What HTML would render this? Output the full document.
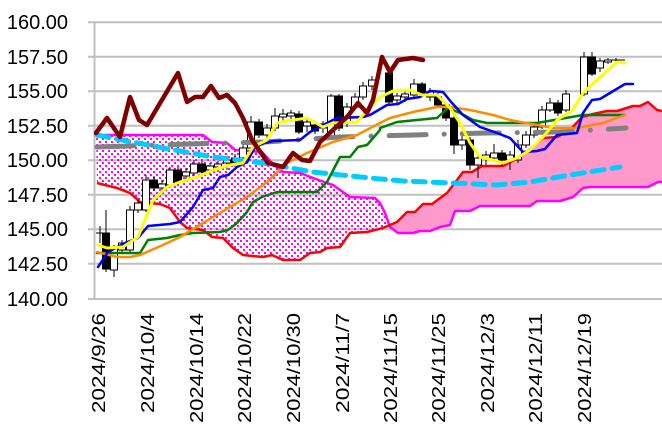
<!DOCTYPE html>
<html><head><meta charset="utf-8"><style>
html,body{margin:0;padding:0;background:#fff;}
svg{display:block;}
</style></head><body>
<svg width="662" height="434" viewBox="0 0 662 434" xmlns="http://www.w3.org/2000/svg">
<defs>
<pattern id="dots" width="6" height="6" patternUnits="userSpaceOnUse">
<rect x="0" y="0" width="2" height="2" fill="#ff00ff"/>
<rect x="3" y="3" width="2" height="2" fill="#ff00ff"/>
</pattern>
</defs>
<g stroke="#c0c0c0" stroke-width="2">
<line x1="88" y1="22.3" x2="662" y2="22.3"/>
<line x1="88" y1="56.8" x2="662" y2="56.8"/>
<line x1="88" y1="91.3" x2="662" y2="91.3"/>
<line x1="88" y1="125.8" x2="662" y2="125.8"/>
<line x1="88" y1="160.3" x2="662" y2="160.3"/>
<line x1="88" y1="194.8" x2="662" y2="194.8"/>
<line x1="88" y1="229.3" x2="662" y2="229.3"/>
<line x1="88" y1="263.8" x2="662" y2="263.8"/>
<line x1="88" y1="299" x2="662" y2="299"/>
<line x1="94.5" y1="22" x2="94.5" y2="299"/>
</g>
<g font-family="Liberation Sans, sans-serif" font-size="20" fill="#000" text-anchor="end">
<text x="68" y="29">160.00</text>
<text x="68" y="64">157.50</text>
<text x="68" y="98">155.00</text>
<text x="68" y="133">152.50</text>
<text x="68" y="167">150.00</text>
<text x="68" y="202">147.50</text>
<text x="68" y="236">145.00</text>
<text x="68" y="271">142.50</text>
<text x="68" y="306">140.00</text>
</g>
<g font-family="Liberation Sans, sans-serif" font-size="18" fill="#000" text-anchor="end">
<text transform="translate(105,313) rotate(-90)" textLength="100" lengthAdjust="spacingAndGlyphs">2024/9/26</text>
<text transform="translate(154,313) rotate(-90)" textLength="100" lengthAdjust="spacingAndGlyphs">2024/10/4</text>
<text transform="translate(203,313) rotate(-90)" textLength="110" lengthAdjust="spacingAndGlyphs">2024/10/14</text>
<text transform="translate(251,313) rotate(-90)" textLength="110" lengthAdjust="spacingAndGlyphs">2024/10/22</text>
<text transform="translate(300,313) rotate(-90)" textLength="110" lengthAdjust="spacingAndGlyphs">2024/10/30</text>
<text transform="translate(349,313) rotate(-90)" textLength="100" lengthAdjust="spacingAndGlyphs">2024/11/7</text>
<text transform="translate(397,313) rotate(-90)" textLength="110" lengthAdjust="spacingAndGlyphs">2024/11/15</text>
<text transform="translate(445,313) rotate(-90)" textLength="110" lengthAdjust="spacingAndGlyphs">2024/11/25</text>
<text transform="translate(494,313) rotate(-90)" textLength="100" lengthAdjust="spacingAndGlyphs">2024/12/3</text>
<text transform="translate(542,313) rotate(-90)" textLength="110" lengthAdjust="spacingAndGlyphs">2024/12/11</text>
<text transform="translate(591,313) rotate(-90)" textLength="110" lengthAdjust="spacingAndGlyphs">2024/12/19</text>
</g>
<!-- left cloud -->
<polygon fill="url(#dots)" points="96,135 203,135 212,142 227,143 235,150 262,152 272,163 283,172 300,173 313,178 333,185 350,197 375,198 380,203 370,197 378,202 385,213 390,227 383,228 370,230 367,232 350,233 340,247 327,248 320,252 310,253 300,260 283,260 272,255 263,257 243,255 233,248 223,238 212,237 203,230 187,228 180,222 170,208 160,204 140,202 130,193 117,188 97,183"/>
<!-- right cloud -->
<polygon fill="#ff99cc" points="390,227 397,222 407,212 415,212 423,204 432,204 447,193 457,180 463,172 472,172 482,166 503,166 520,157 533,147 543,138 557,137 570,130 582,117 593,114 607,111 617,111 633,106 640,106 648,102 657,110 662,111 662,182 658,182 648,187 590,187 583,188 573,197 560,201 537,201 530,206 480,206 470,211 455,211 450,225 440,227 430,231 420,231 413,233 398,233"/>
<g fill="none" stroke-linejoin="round">
<polyline stroke="#ff00ff" stroke-width="2.5" points="96,135 203,135 212,142 227,143 235,150 262,152 272,163 283,172 300,173 313,178 333,185 350,197 375,198 380,203 385,213 390,227 398,233 413,233 420,231 430,231 440,227 450,225 455,211 470,211 480,206 530,206 537,201 560,201 573,197 583,188 590,187 648,187 658,182 662,182"/>
<polyline stroke="#ff0000" stroke-width="2.5" points="97,183 117,188 130,193 140,202 160,204 170,208 180,222 187,228 203,230 212,237 223,238 233,248 243,255 263,257 272,255 283,260 300,260 310,253 320,252 327,248 340,247 350,233 367,232 383,228 397,222 407,212 415,212 423,204 432,204 447,193 457,180 463,172 472,172 482,166 503,166 520,157 533,147 543,138 557,137 570,130 582,117 593,114 607,111 617,111 633,106 640,106 648,102 657,110 662,111"/>
</g>
<!-- candles -->
<g stroke="#000" stroke-width="1">
<line x1="100" y1="226" x2="100" y2="243"/><line x1="96" y1="233" x2="104" y2="233"/>
<line x1="106" y1="210" x2="106" y2="272"/><rect x="102.5" y="233" width="7" height="36" fill="#000"/>
<line x1="114" y1="245" x2="114" y2="277"/><rect x="110.5" y="248" width="7" height="22" fill="#fff"/>
<line x1="122" y1="240" x2="122" y2="252"/><rect x="118.5" y="243" width="7" height="7" fill="#fff"/>
<line x1="130" y1="206" x2="130" y2="252"/><rect x="126.5" y="210" width="7" height="40" fill="#fff"/>
<line x1="138" y1="200" x2="138" y2="213"/><rect x="134.5" y="203" width="7" height="7" fill="#fff"/>
<line x1="146" y1="175" x2="146" y2="212"/><rect x="142.5" y="180" width="7" height="30" fill="#fff"/>
<line x1="154" y1="176" x2="154" y2="191"/><rect x="150.5" y="180" width="7" height="8" fill="#000"/>
<line x1="162" y1="180" x2="162" y2="192"/><rect x="158.5" y="184" width="7" height="4" fill="#fff"/>
<line x1="170" y1="167" x2="170" y2="188"/><rect x="166.5" y="170" width="7" height="15" fill="#fff"/>
<line x1="178" y1="167" x2="178" y2="186"/><rect x="174.5" y="170" width="7" height="12" fill="#000"/>
<line x1="186" y1="168" x2="186" y2="180"/><rect x="182.5" y="172" width="7" height="4" fill="#fff"/>
<line x1="194" y1="160" x2="194" y2="176"/><rect x="190.5" y="164" width="7" height="9" fill="#fff"/>
<line x1="202" y1="161" x2="202" y2="176"/><rect x="198.5" y="164" width="7" height="8" fill="#000"/>
<line x1="210" y1="163" x2="210" y2="175"/><rect x="206.5" y="166" width="7" height="4" fill="#fff"/>
<line x1="218" y1="161" x2="218" y2="172"/><rect x="214.5" y="164" width="7" height="3" fill="#fff"/>
<line x1="227" y1="157" x2="227" y2="170"/><rect x="223.5" y="160" width="7" height="3" fill="#fff"/>
<line x1="235" y1="154" x2="235" y2="167"/><rect x="231.5" y="158" width="7" height="5" fill="#000"/>
<line x1="243" y1="144" x2="243" y2="162"/><rect x="239.5" y="148" width="7" height="10" fill="#fff"/>
<line x1="251" y1="116" x2="251" y2="150"/><rect x="247.5" y="122" width="7" height="26" fill="#fff"/>
<line x1="259" y1="119" x2="259" y2="138"/><rect x="255.5" y="122" width="7" height="13" fill="#000"/>
<line x1="267" y1="124" x2="267" y2="139"/><rect x="263.5" y="128" width="7" height="7" fill="#fff"/>
<line x1="275" y1="108" x2="275" y2="131"/><rect x="271.5" y="116" width="7" height="12" fill="#fff"/>
<line x1="283" y1="109" x2="283" y2="121"/><rect x="279.5" y="114" width="7" height="3" fill="#fff"/>
<line x1="291" y1="110" x2="291" y2="121"/><rect x="287.5" y="113" width="7" height="3" fill="#fff"/>
<line x1="299" y1="111" x2="299" y2="134"/><rect x="295.5" y="114" width="7" height="18" fill="#000"/>
<line x1="307" y1="118" x2="307" y2="132"/><rect x="303.5" y="122" width="7" height="4" fill="#fff"/>
<line x1="315" y1="121" x2="315" y2="134"/><rect x="311.5" y="125" width="7" height="6" fill="#000"/>
<line x1="323" y1="121" x2="323" y2="133"/><rect x="319.5" y="124" width="7" height="4" fill="#fff"/>
<line x1="331" y1="94" x2="331" y2="140"/><rect x="327.5" y="96" width="7" height="41" fill="#fff"/>
<line x1="339" y1="94" x2="339" y2="131"/><rect x="335.5" y="96" width="7" height="32" fill="#000"/>
<line x1="347" y1="103" x2="347" y2="127"/><rect x="343.5" y="107" width="7" height="16" fill="#fff"/>
<line x1="355" y1="93" x2="355" y2="110"/><rect x="351.5" y="97" width="7" height="10" fill="#fff"/>
<line x1="363" y1="82" x2="363" y2="100"/><rect x="359.5" y="86" width="7" height="11" fill="#fff"/>
<line x1="372" y1="76" x2="372" y2="90"/><rect x="368.5" y="80" width="7" height="6" fill="#fff"/>
<line x1="389" y1="70" x2="389" y2="106"/><rect x="385.5" y="73" width="7" height="29" fill="#000"/>
<line x1="397" y1="93" x2="397" y2="103"/><rect x="393.5" y="96" width="7" height="4" fill="#fff"/>
<line x1="405" y1="90" x2="405" y2="102"/><rect x="401.5" y="94" width="7" height="3" fill="#fff"/>
<line x1="414" y1="79" x2="414" y2="98"/><rect x="410.5" y="84" width="7" height="11" fill="#fff"/>
<line x1="422" y1="82" x2="422" y2="96"/><rect x="418.5" y="84" width="7" height="9" fill="#000"/>
<line x1="430" y1="88" x2="430" y2="101"/><rect x="426.5" y="92" width="7" height="5" fill="#fff"/>
<line x1="438" y1="93" x2="438" y2="108"/><rect x="434.5" y="97" width="7" height="8" fill="#000"/>
<line x1="446" y1="102" x2="446" y2="121"/><rect x="442.5" y="105" width="7" height="13" fill="#000"/>
<line x1="454" y1="114" x2="454" y2="154"/><rect x="450.5" y="118" width="7" height="27" fill="#000"/>
<line x1="462" y1="136" x2="462" y2="150"/><rect x="458.5" y="140" width="7" height="5" fill="#fff"/>
<line x1="470" y1="137" x2="470" y2="170"/><rect x="466.5" y="140" width="7" height="25" fill="#000"/>
<line x1="478" y1="154" x2="478" y2="178"/><rect x="474.5" y="158" width="7" height="7" fill="#fff"/>
<line x1="486" y1="151" x2="486" y2="165"/><rect x="482.5" y="155" width="7" height="3" fill="#fff"/>
<line x1="494" y1="144" x2="494" y2="162"/><rect x="490.5" y="153" width="7" height="5" fill="#fff"/>
<line x1="502" y1="150" x2="502" y2="166"/><rect x="498.5" y="153" width="7" height="7" fill="#000"/>
<line x1="510" y1="151" x2="510" y2="170"/><rect x="506.5" y="155" width="7" height="5" fill="#fff"/>
<line x1="518" y1="140" x2="518" y2="163"/><rect x="514.5" y="145" width="7" height="15" fill="#fff"/>
<line x1="526" y1="131" x2="526" y2="148"/><rect x="522.5" y="135" width="7" height="10" fill="#fff"/>
<line x1="534" y1="123" x2="534" y2="138"/><rect x="530.5" y="127" width="7" height="8" fill="#fff"/>
<line x1="542" y1="106" x2="542" y2="129"/><rect x="538.5" y="110" width="7" height="17" fill="#fff"/>
<line x1="550" y1="98" x2="550" y2="112"/><rect x="546.5" y="103" width="7" height="7" fill="#fff"/>
<line x1="558" y1="100" x2="558" y2="116"/><rect x="554.5" y="103" width="7" height="10" fill="#000"/>
<line x1="566" y1="90" x2="566" y2="112"/><rect x="562.5" y="94" width="7" height="16" fill="#fff"/>
<line x1="584" y1="52" x2="584" y2="96"/><rect x="580.5" y="57" width="7" height="37" fill="#fff"/>
<line x1="592" y1="52" x2="592" y2="76"/><rect x="588.5" y="57" width="7" height="17" fill="#000"/>
<line x1="600" y1="58" x2="600" y2="72"/><rect x="596.5" y="61" width="7" height="7" fill="#fff"/>
<line x1="608" y1="58" x2="608" y2="64"/><rect x="604.5" y="60" width="7" height="2" fill="#fff"/>
<line x1="616" y1="58" x2="616" y2="63"/><line x1="612" y1="60" x2="625" y2="60"/>
</g>
<g fill="none" stroke-linejoin="round" stroke-linecap="round">
<polyline stroke="#808080" stroke-width="5" stroke-dasharray="37,18,0.1,18" points="97,147 190,144 265,142 340,137 413,135 487,133 560,132 626,128"/>
<polyline stroke="#00ccff" stroke-width="5" stroke-dasharray="12,8" points="97,135 163,148 213,157 263,163 313,172 370,178 403,181 453,183 497,185 530,182 570,175 620,167"/>
<polyline stroke="#008000" stroke-width="2.5" points="97,253 140,253 148,240 167,238 180,235 193,233 220,232 228,230 237,223 247,212 253,202 262,197 277,192 317,192 327,182 340,157 350,157 358,147 367,145 380,130 380,128 397,122 417,120 437,118 448,108 460,113 473,120 487,123 537,123 583,115 625,115"/>
<polyline stroke="#ff8c00" stroke-width="2.5" points="97,252 117,257 130,257 140,255 163,245 180,237 213,217 247,197 267,182 287,163 307,153 333,142 357,135 380,123 390,118 413,112 437,107 450,107 470,110 493,115 510,120 537,125 553,128 577,128 603,123 625,115"/>
<polyline stroke="#0000ff" stroke-width="2.5" points="98,267 108,252 125,243 138,238 148,226 170,224 180,222 193,207 203,190 213,188 220,177 228,175 237,167 247,162 255,147 265,143 273,141 300,140 310,132 327,123 337,118 363,117 370,115 387,105 398,104 407,99 420,97 430,91 443,92 452,103 463,115 480,127 497,133 510,138 523,152 537,151 545,149 557,135 577,133 583,113 592,100 600,99 610,93 625,84 633,84"/>
<polyline stroke="#ffff00" stroke-width="3" points="98,245 107,248 123,247 138,237 153,200 167,187 180,182 197,177 213,170 230,165 243,163 253,147 267,140 277,123 287,121 307,118 323,127 333,123 357,122 367,110 380,97 393,91 410,90 422,95 437,95 450,108 460,123 470,143 480,157 493,160 503,163 517,158 530,150 543,137 557,120 573,110 583,93 597,80 617,62 625,63"/>
<polyline stroke="#800000" stroke-width="4.5" points="96,133 107,118 120,137 130,97 139,120 147,125 178,73 187,102 195,97 203,97 211,86 219,98 227,95 235,103 243,118 252,140 268,163 283,167 293,153 302,160 310,161 320,142 333,130 347,117 358,103 367,113 373,100 382,57 390,72 398,60 413,58 423,60"/>
</g>
</svg>
</body></html>
